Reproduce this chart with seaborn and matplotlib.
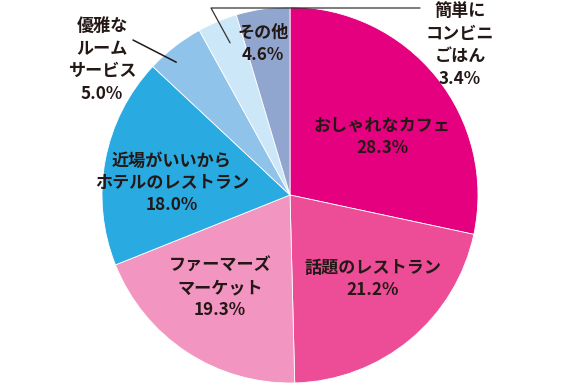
import numpy as np
import matplotlib
matplotlib.use("Agg")
import matplotlib.pyplot as plt
import seaborn as sns

# data, clockwise from 12 o'clock
labels = ["おしゃれなカフェ", "話題のレストラン", "ファーマーズ\nマーケット",
          "近場がいいから\nホテルのレストラン", "優雅な\nルーム\nサービス",
          "簡単に\nコンビニ\nごはん", "その他"]
shares = [28.3, 21.2, 19.3, 18.0, 5.0, 3.4, 4.6]
colors = ["#E4007F", "#EC4D96", "#F295C0", "#29AAE1", "#8FC3EA", "#CCE7F8", "#91A6CF"]

sns.set_style("white")
plt.rcParams["font.family"] = ["Noto Sans CJK JP", "DejaVu Sans"]

W, H = 580, 390
fig = plt.figure(figsize=(W / 100, H / 100), dpi=100)
ax = fig.add_axes([0, 0, 1, 1])

cx, cy, R = 290, 195, 188
wedges, _ = ax.pie(shares, colors=colors, startangle=90, counterclock=False,
                   center=(cx, cy), radius=R,
                   wedgeprops=dict(edgecolor="white", linewidth=0.6))
ax.set_xlim(0, W)
ax.set_ylim(0, H)
ax.set_aspect("equal")
ax.axis("off")

# label centres in pixels from top-left
label_pos = [(382, 137), (373, 279), (220, 288), (172, 183), (102, 60), (460, 45), (263, 44)]
txt_color = "#231815"
for lab, val, (px, py) in zip(labels, shares, label_pos):
    ax.text(px, H - py, f"{lab}\n{val:.1f}%", ha="center", va="center",
            fontsize=12.3, fontweight="bold", color=txt_color, linespacing=1.32)


def wedge_point(w, frac, r):
    ang = np.deg2rad(w.theta1 + (w.theta2 - w.theta1) * frac)
    return cx + r * R * np.cos(ang), cy + r * R * np.sin(ang)


# leader: 優雅なルームサービス
x0, y0 = wedge_point(wedges[4], 0.65, 0.93)
ax.plot([x0, 133], [y0, H - 40], color="#231815", lw=1.1)

# leader: 簡単にコンビニごはん
x1, y1 = wedge_point(wedges[5], 0.4, 0.87)
ax.plot([x1, 211, 420], [y1, H - 8, H - 8], color="#333333", lw=0.9)

fig.savefig("out.png", dpi=100)
